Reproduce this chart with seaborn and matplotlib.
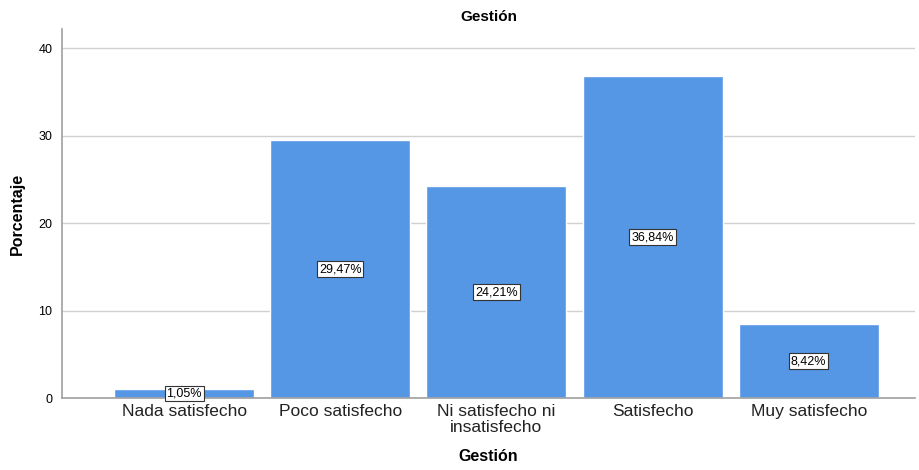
import numpy as np
import pandas as pd
import matplotlib
matplotlib.use("Agg")
import matplotlib.pyplot as plt
import seaborn as sns

categories = ["Nada satisfecho", "Poco satisfecho", "Ni satisfecho ni\ninsatisfecho",
              "Satisfecho", "Muy satisfecho"]
percentages = [1.05, 29.47, 24.21, 36.84, 8.42]
value_labels = ["1,05%", "29,47%", "24,21%", "36,84%", "8,42%"]
y_ticks = [0, 10, 20, 30, 40]

BAR_COLOR = "#5596e5"
AXIS_GRAY = "#a0a0a0"

sns.set_style("white")
plt.rcParams["font.family"] = ["Liberation Sans", "DejaVu Sans"]
plt.rcParams["text.color"] = "black"
plt.rcParams["axes.labelcolor"] = "black"
plt.rcParams["xtick.color"] = "#222222"
plt.rcParams["ytick.color"] = "black"

df = pd.DataFrame({"Gestión": categories, "Porcentaje": percentages})

fig = plt.figure(figsize=(9.19, 4.70), dpi=100)
ax = fig.add_axes([0.0675, 0.153, 0.928, 0.785])

sns.barplot(data=df, x="Gestión", y="Porcentaje", color=BAR_COLOR,
            saturation=1, width=0.897, ax=ax)

for patch, txt in zip(ax.patches, value_labels):
    cx = patch.get_x() + patch.get_width() / 2
    cy = patch.get_height() / 2
    ax.text(cx, cy, txt, ha="center", va="center", fontsize=9, color="black",
            bbox=dict(boxstyle="square,pad=0.15", facecolor="white",
                      edgecolor="#333333", linewidth=0.8))

ax.set_ylim(0, 42.2)
ax.set_xlim(-0.782, 4.68)
ax.set_yticks(y_ticks)
ax.set_yticklabels([str(t) for t in y_ticks], fontsize=9)
ax.tick_params(axis="y", length=4, color=AXIS_GRAY, width=1, pad=3)
ax.tick_params(axis="x", length=0, labelsize=12.5, pad=4, color=AXIS_GRAY)
for lbl in ax.get_xticklabels():
    lbl.set_linespacing(1.1)
ax.yaxis.grid(True, color="#d0d0d0", linewidth=1)
ax.set_axisbelow(True)

for side in ["top", "right"]:
    ax.spines[side].set_visible(False)
for side in ["left", "bottom"]:
    ax.spines[side].set_color(AXIS_GRAY)
    ax.spines[side].set_linewidth(1.2)

ax.set_xlabel("Gestión", fontsize=11.5, fontweight="bold", labelpad=10)
ax.set_ylabel("Porcentaje", fontsize=11.5, fontweight="bold", labelpad=10)
ax.set_title("Gestión", fontsize=11, fontweight="bold", pad=6)

fig.savefig("out.png", dpi=100)
